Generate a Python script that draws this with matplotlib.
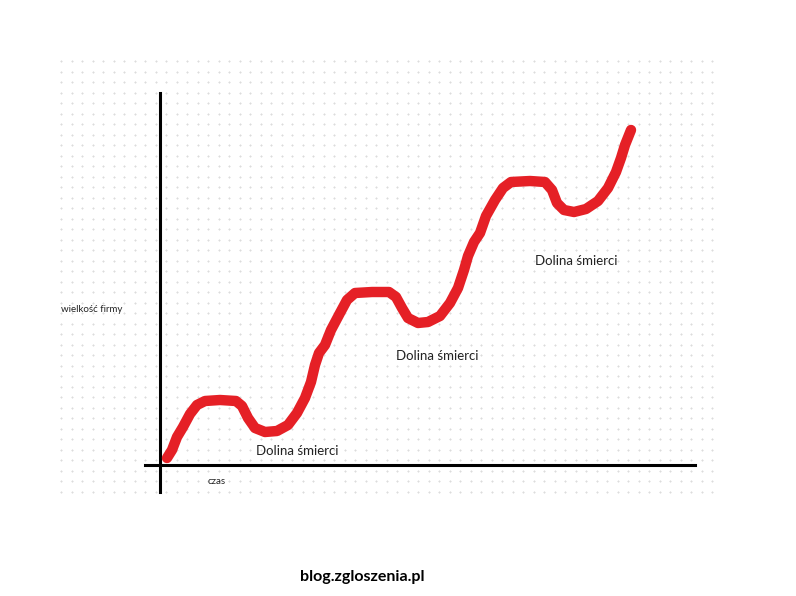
import numpy as np
import matplotlib
matplotlib.use("Agg")
import matplotlib.pyplot as plt

# growth curve (pixel-space coordinates)
curve_x = [167, 172, 177, 183, 190, 197, 205, 220, 236, 242, 248, 255, 265, 277, 288,
           297, 305, 311, 315, 319, 325, 331, 340, 347, 355, 372, 389, 396, 402, 408,
           418, 428, 440, 450, 458, 464, 468, 474, 480, 486, 495, 503, 511, 530, 545,
           552, 557, 564, 574, 586, 598, 608, 616, 621, 625, 631]
curve_y = [458, 450, 437, 427, 414, 405, 401, 400, 401, 406, 418, 428, 432, 431, 425,
           413, 398, 382, 365, 353, 345, 330, 313, 300, 293, 292, 292, 297, 308, 318,
           323, 322, 316, 303, 288, 270, 256, 242, 233, 216, 200, 188, 182, 181, 182,
           190, 203, 210, 212, 209, 201, 188, 172, 158, 145, 130]

valley_labels = ["Dolina śmierci", "Dolina śmierci", "Dolina śmierci"]
valley_x = [256, 396, 535]
valley_y = [451, 356, 261]

plt.rcParams["font.family"] = ["Lato", "DejaVu Sans"]
fig = plt.figure(figsize=(7.96, 5.96), dpi=100)
ax = fig.add_axes([0, 0, 1, 1])
ax.set_xlim(0, 796)
ax.set_ylim(596, 0)
ax.axis("off")

# dotted background grid
gx, gy = np.meshgrid(np.arange(61, 716, 10.5), np.arange(61, 494, 10.5))
ax.scatter(gx.ravel(), gy.ravel(), s=2.5, marker="+", color="#dcdcdc", linewidths=0.8, zorder=0)

# axes
ax.plot([160, 160], [93, 492], color="black", lw=2.2, zorder=1)
ax.plot([145, 695], [465, 465], color="black", lw=2.2, zorder=1)

ax.plot(curve_x, curve_y, color="#e52026", lw=7.5, solid_capstyle="round",
        solid_joinstyle="round", zorder=2)

for t, x, y in zip(valley_labels, valley_x, valley_y):
    ax.text(x, y, t, fontsize=9.5, ha="left", va="center", color="#222222")

ax.text(61, 309, "wielkość firmy", fontsize=7, ha="left", va="center", color="#222222")
ax.text(208, 482, "czas", fontsize=7, ha="left", va="center", color="#222222")
ax.text(362, 577, "blog.zgloszenia.pl", fontsize=11.5, fontweight="bold",
        ha="center", va="center", color="black")

fig.savefig("out.png", dpi=100)
